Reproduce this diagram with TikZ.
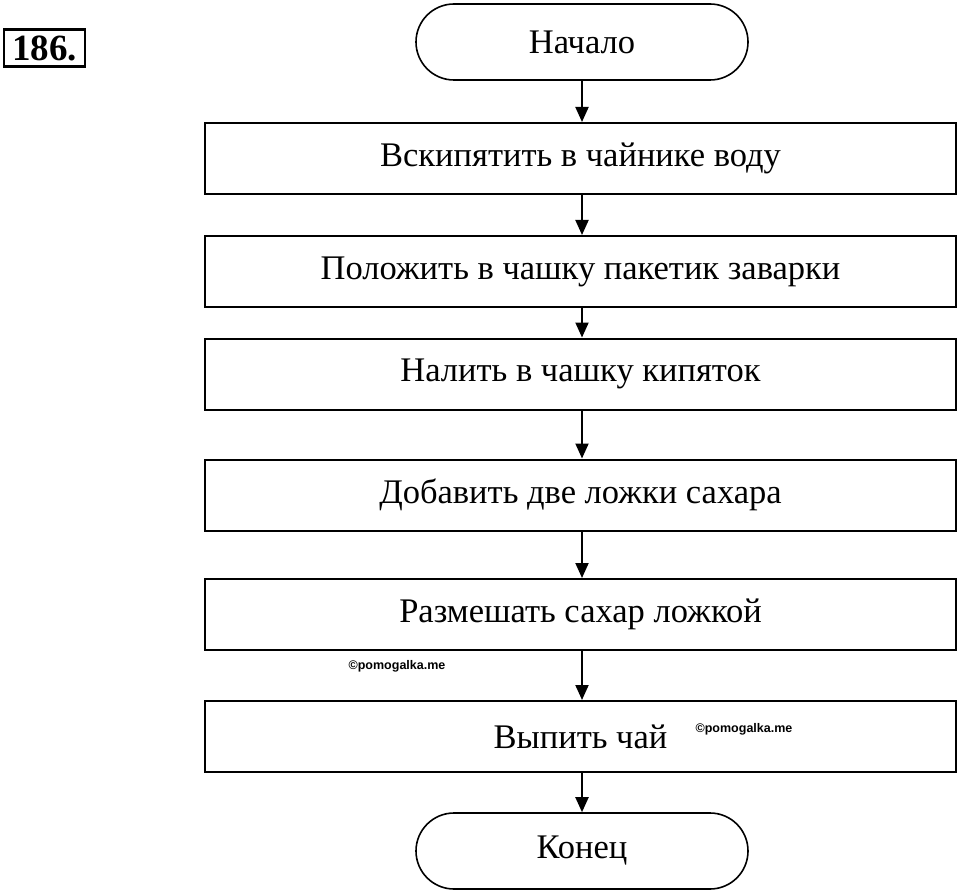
\documentclass[tikz,border=0pt]{standalone}
\usepackage{fontspec}
\setmainfont{Liberation Serif}
\setsansfont{Liberation Sans}
\usetikzlibrary{arrows.meta, positioning}

\tikzset{
    stepbox/.style={draw, line width=2pt, minimum width=751pt, minimum height=71pt, inner sep=0pt, font=\fontsize{34.5}{40}\selectfont},
    term/.style={draw, line width=1.6pt, rounded corners=38pt, minimum width=332pt, minimum height=76pt, inner sep=0pt, font=\fontsize{34.5}{40}\selectfont},
    flow/.style={line width=2pt, -{Triangle[width=13pt,length=15pt]}},
    wmark/.style={font=\sffamily\bfseries\fontsize{12.5}{14}\selectfont}
}

\begin{document}
\begin{tikzpicture}[x=1pt,y=-1pt]
    \useasboundingbox (0,0) rectangle (960,893);

    \node[draw, line width=2.5pt, inner xsep=0pt, inner ysep=0pt, minimum width=81pt, minimum height=37pt, font=\bfseries\fontsize{37}{40}\selectfont] (num) at (44.5,48) {186.};

    \node[term] (start) at (582,42) {Начало};
    \node[stepbox] (boil) at (580.5,158.5) {Вскипятить в чайнике воду};
    \node[stepbox] (bag) at (580.5,271.5) {Положить в чашку пакетик заварки};
    \node[stepbox] (pour) at (580.5,374) {Налить в чашку кипяток};
    \node[stepbox] (sugar) at (580.5,495) {Добавить две ложки сахара};
    \node[stepbox] (stir) at (580.5,614.5) {Размешать сахар ложкой};
    \node[stepbox] (drink) at (580.5,736.5) {Выпить чай};
    \node[term] (stop) at (582,851) {Конец};

    \node[wmark] (wm1) at (397,666) {©pomogalka.me};
    \node[wmark] (wm2) at (744,729) {©pomogalka.me};

    \draw[flow] (start.south) -- (start.south |- boil.north);
    \draw[flow] (start.south |- boil.south) -- (start.south |- bag.north);
    \draw[flow] (start.south |- bag.south) -- (start.south |- pour.north);
    \draw[flow] (start.south |- pour.south) -- (start.south |- sugar.north);
    \draw[flow] (start.south |- sugar.south) -- (start.south |- stir.north);
    \draw[flow] (start.south |- stir.south) -- (start.south |- drink.north);
    \draw[flow] (start.south |- drink.south) -- (stop.north);
\end{tikzpicture}
\end{document}
